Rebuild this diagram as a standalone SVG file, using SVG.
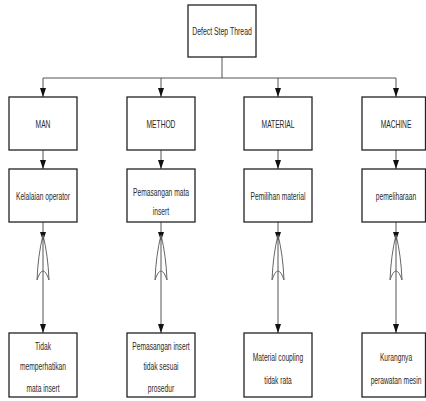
<svg xmlns="http://www.w3.org/2000/svg" width="426" height="401" viewBox="0 0 426 401">
  <defs>
    <marker id="arrow" viewBox="0 0 9 6" refX="9" refY="3" markerWidth="9" markerHeight="6" markerUnits="userSpaceOnUse" orient="auto">
      <path d="M0,0 L9,3 L0,6 Z" fill="#111"/>
    </marker>
    <style>
      .box { fill: #ffffff; stroke: #222; stroke-width: 1.3; }
      .link { fill: none; stroke: #555; stroke-width: 1; }
      .gate { fill: none; stroke: #666; stroke-width: 1; }
      .lbl { font-family: "Liberation Sans", Arial, sans-serif; font-size: 11.5px; fill: #2a2a2a; text-anchor: middle; }
    </style>
  </defs>
  <rect width="426" height="401" fill="#ffffff"/>

  <!-- connectors -->
  <g id="connectors">
    <path class="link" d="M222,57 V78 M43,78 H396"/>
    <line class="link" x1="43" y1="78" x2="43" y2="97" marker-end="url(#arrow)"/>
    <line class="link" x1="161" y1="78" x2="161" y2="97" marker-end="url(#arrow)"/>
    <line class="link" x1="278" y1="78" x2="278" y2="97" marker-end="url(#arrow)"/>
    <line class="link" x1="396" y1="78" x2="396" y2="97" marker-end="url(#arrow)"/>

    <line class="link" x1="43" y1="150" x2="43" y2="169" marker-end="url(#arrow)"/>
    <line class="link" x1="161" y1="150" x2="161" y2="169" marker-end="url(#arrow)"/>
    <line class="link" x1="278" y1="150" x2="278" y2="169" marker-end="url(#arrow)"/>
    <line class="link" x1="396" y1="150" x2="396" y2="169" marker-end="url(#arrow)"/>

    <line class="link" x1="43" y1="222" x2="43" y2="241" marker-end="url(#arrow)"/>
    <line class="link" x1="161" y1="222" x2="161" y2="241" marker-end="url(#arrow)"/>
    <line class="link" x1="278" y1="222" x2="278" y2="241" marker-end="url(#arrow)"/>
    <line class="link" x1="396" y1="222" x2="396" y2="241" marker-end="url(#arrow)"/>

    <line class="link" x1="43" y1="241" x2="43" y2="333" marker-end="url(#arrow)"/>
    <line class="link" x1="161" y1="241" x2="161" y2="333" marker-end="url(#arrow)"/>
    <line class="link" x1="278" y1="241" x2="278" y2="333" marker-end="url(#arrow)"/>
    <line class="link" x1="396" y1="241" x2="396" y2="333" marker-end="url(#arrow)"/>
  </g>

  <!-- OR gates -->
  <g id="gate-man" transform="translate(43,0)">
    <path class="gate" d="M0,235 Q-5,255 -6,280 Q0,262 6,280 Q5,255 0,235 Z"/>
  </g>
  <g id="gate-method" transform="translate(161,0)">
    <path class="gate" d="M0,235 Q-5,255 -6,280 Q0,262 6,280 Q5,255 0,235 Z"/>
  </g>
  <g id="gate-material" transform="translate(278,0)">
    <path class="gate" d="M0,235 Q-5,255 -6,280 Q0,262 6,280 Q5,255 0,235 Z"/>
  </g>
  <g id="gate-machine" transform="translate(396,0)">
    <path class="gate" d="M0,235 Q-5,255 -6,280 Q0,262 6,280 Q5,255 0,235 Z"/>
  </g>

  <!-- root -->
  <g id="defect">
    <rect class="box" x="188" y="5" width="68" height="52"/>
    <text class="lbl" transform="translate(222,35) scale(0.6,1)">Defect Step Thread</text>
  </g>

  <!-- categories -->
  <g id="man">
    <rect class="box" x="9" y="97" width="68" height="53"/>
    <text class="lbl" transform="translate(43,128) scale(0.58,1)">MAN</text>
  </g>
  <g id="method">
    <rect class="box" x="127" y="97" width="68" height="53"/>
    <text class="lbl" transform="translate(161,128) scale(0.58,1)">METHOD</text>
  </g>
  <g id="material">
    <rect class="box" x="244" y="97" width="68" height="53"/>
    <text class="lbl" transform="translate(278,128) scale(0.58,1)">MATERIAL</text>
  </g>
  <g id="machine">
    <rect class="box" x="362" y="97" width="63.5" height="53"/>
    <text class="lbl" transform="translate(396,128) scale(0.58,1)">MACHINE</text>
  </g>

  <!-- causes -->
  <g id="kelalaian">
    <rect class="box" x="9" y="169" width="68" height="53"/>
    <text class="lbl" transform="translate(43,200) scale(0.58,1)">Kelalaian operator</text>
  </g>
  <g id="pemasangan">
    <rect class="box" x="127" y="169" width="68" height="53"/>
    <text class="lbl" transform="translate(161,196) scale(0.58,1)">Pemasangan mata</text>
    <text class="lbl" transform="translate(161,215) scale(0.58,1)">insert</text>
  </g>
  <g id="pemilihan">
    <rect class="box" x="244" y="169" width="68" height="53"/>
    <text class="lbl" transform="translate(278,200) scale(0.58,1)">Pemilihan material</text>
  </g>
  <g id="pemeliharaan">
    <rect class="box" x="362" y="169" width="63.5" height="53"/>
    <text class="lbl" transform="translate(396,200) scale(0.58,1)">pemeliharaan</text>
  </g>

  <!-- root causes -->
  <g id="tidak-memperhatikan">
    <rect class="box" x="9" y="333" width="68" height="64"/>
    <text class="lbl" transform="translate(43,350) scale(0.58,1)">Tidak</text>
    <text class="lbl" transform="translate(43,370) scale(0.58,1)">memperhatikan</text>
    <text class="lbl" transform="translate(43,392) scale(0.58,1)">mata insert</text>
  </g>
  <g id="tidak-sesuai">
    <rect class="box" x="127" y="333" width="68" height="64"/>
    <text class="lbl" transform="translate(161,350) scale(0.58,1)">Pemasangan insert</text>
    <text class="lbl" transform="translate(161,370) scale(0.58,1)">tidak sesuai</text>
    <text class="lbl" transform="translate(161,392) scale(0.58,1)">prosedur</text>
  </g>
  <g id="coupling">
    <rect class="box" x="244" y="333" width="68" height="64"/>
    <text class="lbl" transform="translate(278,361) scale(0.58,1)">Material coupling</text>
    <text class="lbl" transform="translate(278,384) scale(0.58,1)">tidak rata</text>
  </g>
  <g id="perawatan">
    <rect class="box" x="362" y="333" width="63.5" height="64"/>
    <text class="lbl" transform="translate(396,361) scale(0.58,1)">Kurangnya</text>
    <text class="lbl" transform="translate(396,384) scale(0.58,1)">perawatan mesin</text>
  </g>
</svg>
